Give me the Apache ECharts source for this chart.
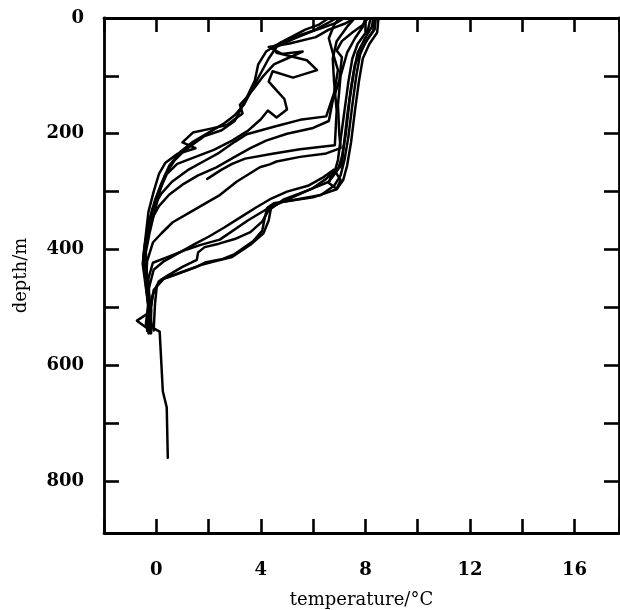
<!DOCTYPE html>
<html>
<head>
<meta charset="utf-8">
<script src="https://cdn.jsdelivr.net/npm/echarts@6/dist/echarts.min.js"></script>
<style>html,body{margin:0;padding:0;background:#fff}#c{width:620px;height:610px}</style>
</head>
<body>
<div id="c"></div>
<script>
// Tick labels
var xTickLabels = [0, 4, 8, 12, 16];
var yTickLabels = [0, 200, 400, 600, 800];

// Temperature (°C) / depth (m) profiles
var p1 = [[8.4,0],[8.35,20],[8.0,42],[7.8,62],[7.65,100],[7.5,150],[7.35,205],[7.2,245],[7.05,272],[6.8,290],[6.3,306],[5.3,314],[4.5,320],[4.25,328],[4.15,345],[4.05,368],[3.7,386],[3.0,408],[2.5,417],[1.9,422],[1.5,431],[0.65,445],[0.2,452],[0.02,463],[-0.05,495],[-0.1,540]];
var p2 = [[8.5,0],[8.45,25],[8.15,45],[7.9,70],[7.75,110],[7.6,160],[7.45,215],[7.3,255],[7.15,280],[6.9,296],[6.0,310],[4.8,318],[4.4,326],[4.3,350],[4.1,372],[3.6,392],[2.9,413],[2.2,421],[1.7,427],[0.9,440],[0.3,450],[-0.1,470],[-0.2,500],[-0.2,545]];
var p3 = [[8.3,0],[8.25,15],[7.95,38],[7.7,60],[7.55,95],[7.4,140],[7.25,200],[7.1,240],[6.95,262],[6.6,283],[5.8,298],[4.9,313],[4.3,332],[4.05,352],[3.6,370],[3.0,382],[2.4,390],[1.85,396],[1.6,405],[1.55,418],[1.0,430],[0.4,446],[0.1,455],[-0.15,480],[-0.25,515],[-0.15,535],[0.13,542],[0.25,645],[0.4,673],[0.44,760]];
var p4 = [[8.2,0],[8.1,20],[7.7,45],[7.5,70],[7.35,110],[7.2,160],[7.05,210],[6.95,245],[6.85,262],[6.5,278],[5.95,295],[4.8,318],[4.23,330],[3.5,350],[2.43,383],[1.7,392],[1.17,400],[0.5,412],[-0.13,423],[-0.3,450],[-0.25,500],[-0.3,540]];
var p5 = [[8.0,0],[7.9,15],[7.6,35],[7.3,60],[7.05,100],[6.95,150],[7.0,200],[7.05,225],[6.5,234],[5.5,240],[4.6,248],[4.34,253],[3.96,258],[3.07,283],[2.43,306],[1.78,323],[1.2,338],[0.63,353],[0.2,372],[-0.13,388],[-0.35,420],[-0.4,460],[-0.3,500],[-0.35,540]];
var p6 = [[7.6,0],[7.3,15],[6.9,40],[6.75,70],[6.8,110],[6.9,160],[6.83,220],[5.5,227],[4.5,234],[3.4,243],[2.9,252],[2.5,262],[1.95,278]];
var p7 = [[7.0,0],[6.8,12],[6.6,35],[6.75,60],[6.95,90],[6.8,130],[6.5,170],[5.5,176],[4.5,188],[3.46,201],[3.0,214],[2.4,233],[1.8,248],[1.2,263],[0.6,283],[0.2,303],[-0.15,330],[-0.35,370],[-0.45,410],[-0.35,450],[-0.3,500],[-0.35,540]];
var p8 = [[6.6,0],[6.2,12],[5.7,20],[4.7,44],[4.2,58],[3.9,80],[3.77,108],[3.4,143],[3.0,178],[2.5,194],[1.85,204],[1.1,228],[0.7,246],[0.33,272],[0.13,300],[-0.06,334],[-0.25,370],[-0.4,405],[-0.35,450],[-0.3,490],[-0.3,510],[-0.74,523],[-0.3,538]];
var p9 = [[6.9,0],[6.5,10],[6.0,22],[5.3,35],[4.6,50],[4.3,70],[4.0,95],[3.7,120],[3.35,150],[3.0,168],[2.6,182],[2.0,198],[1.4,214],[0.9,232],[0.5,255],[0.2,285],[-0.05,315],[-0.3,355],[-0.45,395],[-0.52,425],[-0.4,465],[-0.25,515],[-0.3,545]];
var p10 = [[7.2,0],[6.9,8],[6.3,18],[5.6,28],[5.0,38],[4.45,50],[4.6,60],[5.76,73],[6.15,90],[5.23,103],[4.45,92],[4.3,110],[4.6,125],[4.9,140],[5.0,158],[4.6,172],[4.27,160],[4.0,175],[3.5,195],[2.9,212],[2.2,228],[1.5,240],[0.8,252],[0.4,270],[0.15,295],[-0.1,325],[-0.3,365],[-0.45,410],[-0.35,455],[-0.2,505],[-0.25,545]];
var p11 = [[7.6,0],[7.2,10],[6.6,20],[6.1,33],[5.1,44],[4.3,50],[4.8,62],[5.6,58],[5.0,70],[4.5,80],[4.1,100],[3.8,118],[3.5,135],[3.2,150],[3.3,165],[2.7,185],[2.0,192],[1.4,198],[1.0,215],[1.5,225],[0.8,235],[0.35,250],[0.1,270],[-0.1,300],[-0.3,335],[-0.4,375],[-0.5,415],[-0.4,450],[-0.3,490],[-0.4,530]];
var p12 = [[8.1,0],[7.9,12],[7.5,25],[7.1,40],[6.9,56],[7.1,68],[7.0,108],[6.75,143],[6.6,178],[6.0,190],[5.0,200],[4.2,212],[3.6,225],[3.0,240],[2.3,258],[1.6,272],[1.0,288],[0.5,305],[0.1,325],[-0.2,350],[-0.4,385],[-0.5,420],[-0.35,460],[-0.3,500],[-0.3,540]];
var p13 = [[8.35,0],[8.3,22],[8.1,35],[7.85,55],[7.6,80],[7.45,120],[7.3,170],[7.15,230],[7.1,255],[6.7,270],[6.6,285],[6.9,295],[7.05,280],[6.8,262],[6.4,275],[5.8,290],[5.0,300],[4.4,312],[3.8,328],[3.2,345],[2.6,362],[2.0,378],[1.5,390],[0.9,405],[0.3,420],[-0.1,435],[-0.3,470],[-0.25,510],[-0.3,540]];

var profiles = [p1,p2,p3,p4,p5,p6,p7,p8,p9,p10,p11,p12,p13];

var ink = '#000';
var serif = 'DejaVu Serif';

var chart = echarts.init(document.getElementById('c'), null, {renderer: 'canvas'});

var baseX = {
  type: 'value', min: -2, max: 17.7, interval: 2,
  axisLine: {show: true, onZero: false, lineStyle: {color: ink, width: 2.8}},
  axisTick: {show: true, inside: true, length: 14, lineStyle: {color: ink, width: 2.6}},
  splitLine: {show: false}
};
var baseY = {
  type: 'value', min: 0, max: 890, interval: 100, inverse: true,
  axisLine: {show: true, onZero: false, lineStyle: {color: ink, width: 2.8}},
  axisTick: {show: true, inside: true, length: 15, lineStyle: {color: ink, width: 2.6}},
  splitLine: {show: false}
};

chart.setOption({
  animation: false,
  backgroundColor: '#fff',
  grid: {left: 104, right: 1, top: 18, bottom: 77, containLabel: false, outerBoundsMode: 'none'},
  xAxis: [
    Object.assign({}, baseX, {
      position: 'bottom',
      name: 'temperature/°C', nameLocation: 'middle', nameGap: 58,
      nameTextStyle: {fontFamily: serif, fontSize: 18, color: ink},
      axisLabel: {
        show: true, margin: 28, color: ink, fontFamily: serif, fontWeight: 'bold', fontSize: 18,
        formatter: function (v) { return xTickLabels.indexOf(v) >= 0 ? String(v) : ''; }
      }
    }),
    Object.assign({}, baseX, {position: 'top', axisLabel: {show: false}})
  ],
  yAxis: [
    Object.assign({}, baseY, {
      position: 'left',
      name: 'depth/m', nameLocation: 'middle', nameGap: 74, nameRotate: 90,
      nameTextStyle: {fontFamily: serif, fontSize: 18, color: ink},
      axisLabel: {
        show: true, margin: 20, color: ink, fontFamily: serif, fontWeight: 'bold', fontSize: 18,
        formatter: function (v) { return yTickLabels.indexOf(v) >= 0 ? String(v) : ''; }
      }
    }),
    Object.assign({}, baseY, {position: 'right', axisLabel: {show: false}})
  ],
  series: profiles.map(function (p, i) {
    return {
      type: 'line', name: 'profile ' + (i + 1), data: p,
      xAxisIndex: 0, yAxisIndex: 0,
      symbol: 'none', smooth: false, clip: true,
      lineStyle: {color: ink, width: 2.5, join: 'round', cap: 'round'}
    };
  })
});
</script>
</body>
</html>
